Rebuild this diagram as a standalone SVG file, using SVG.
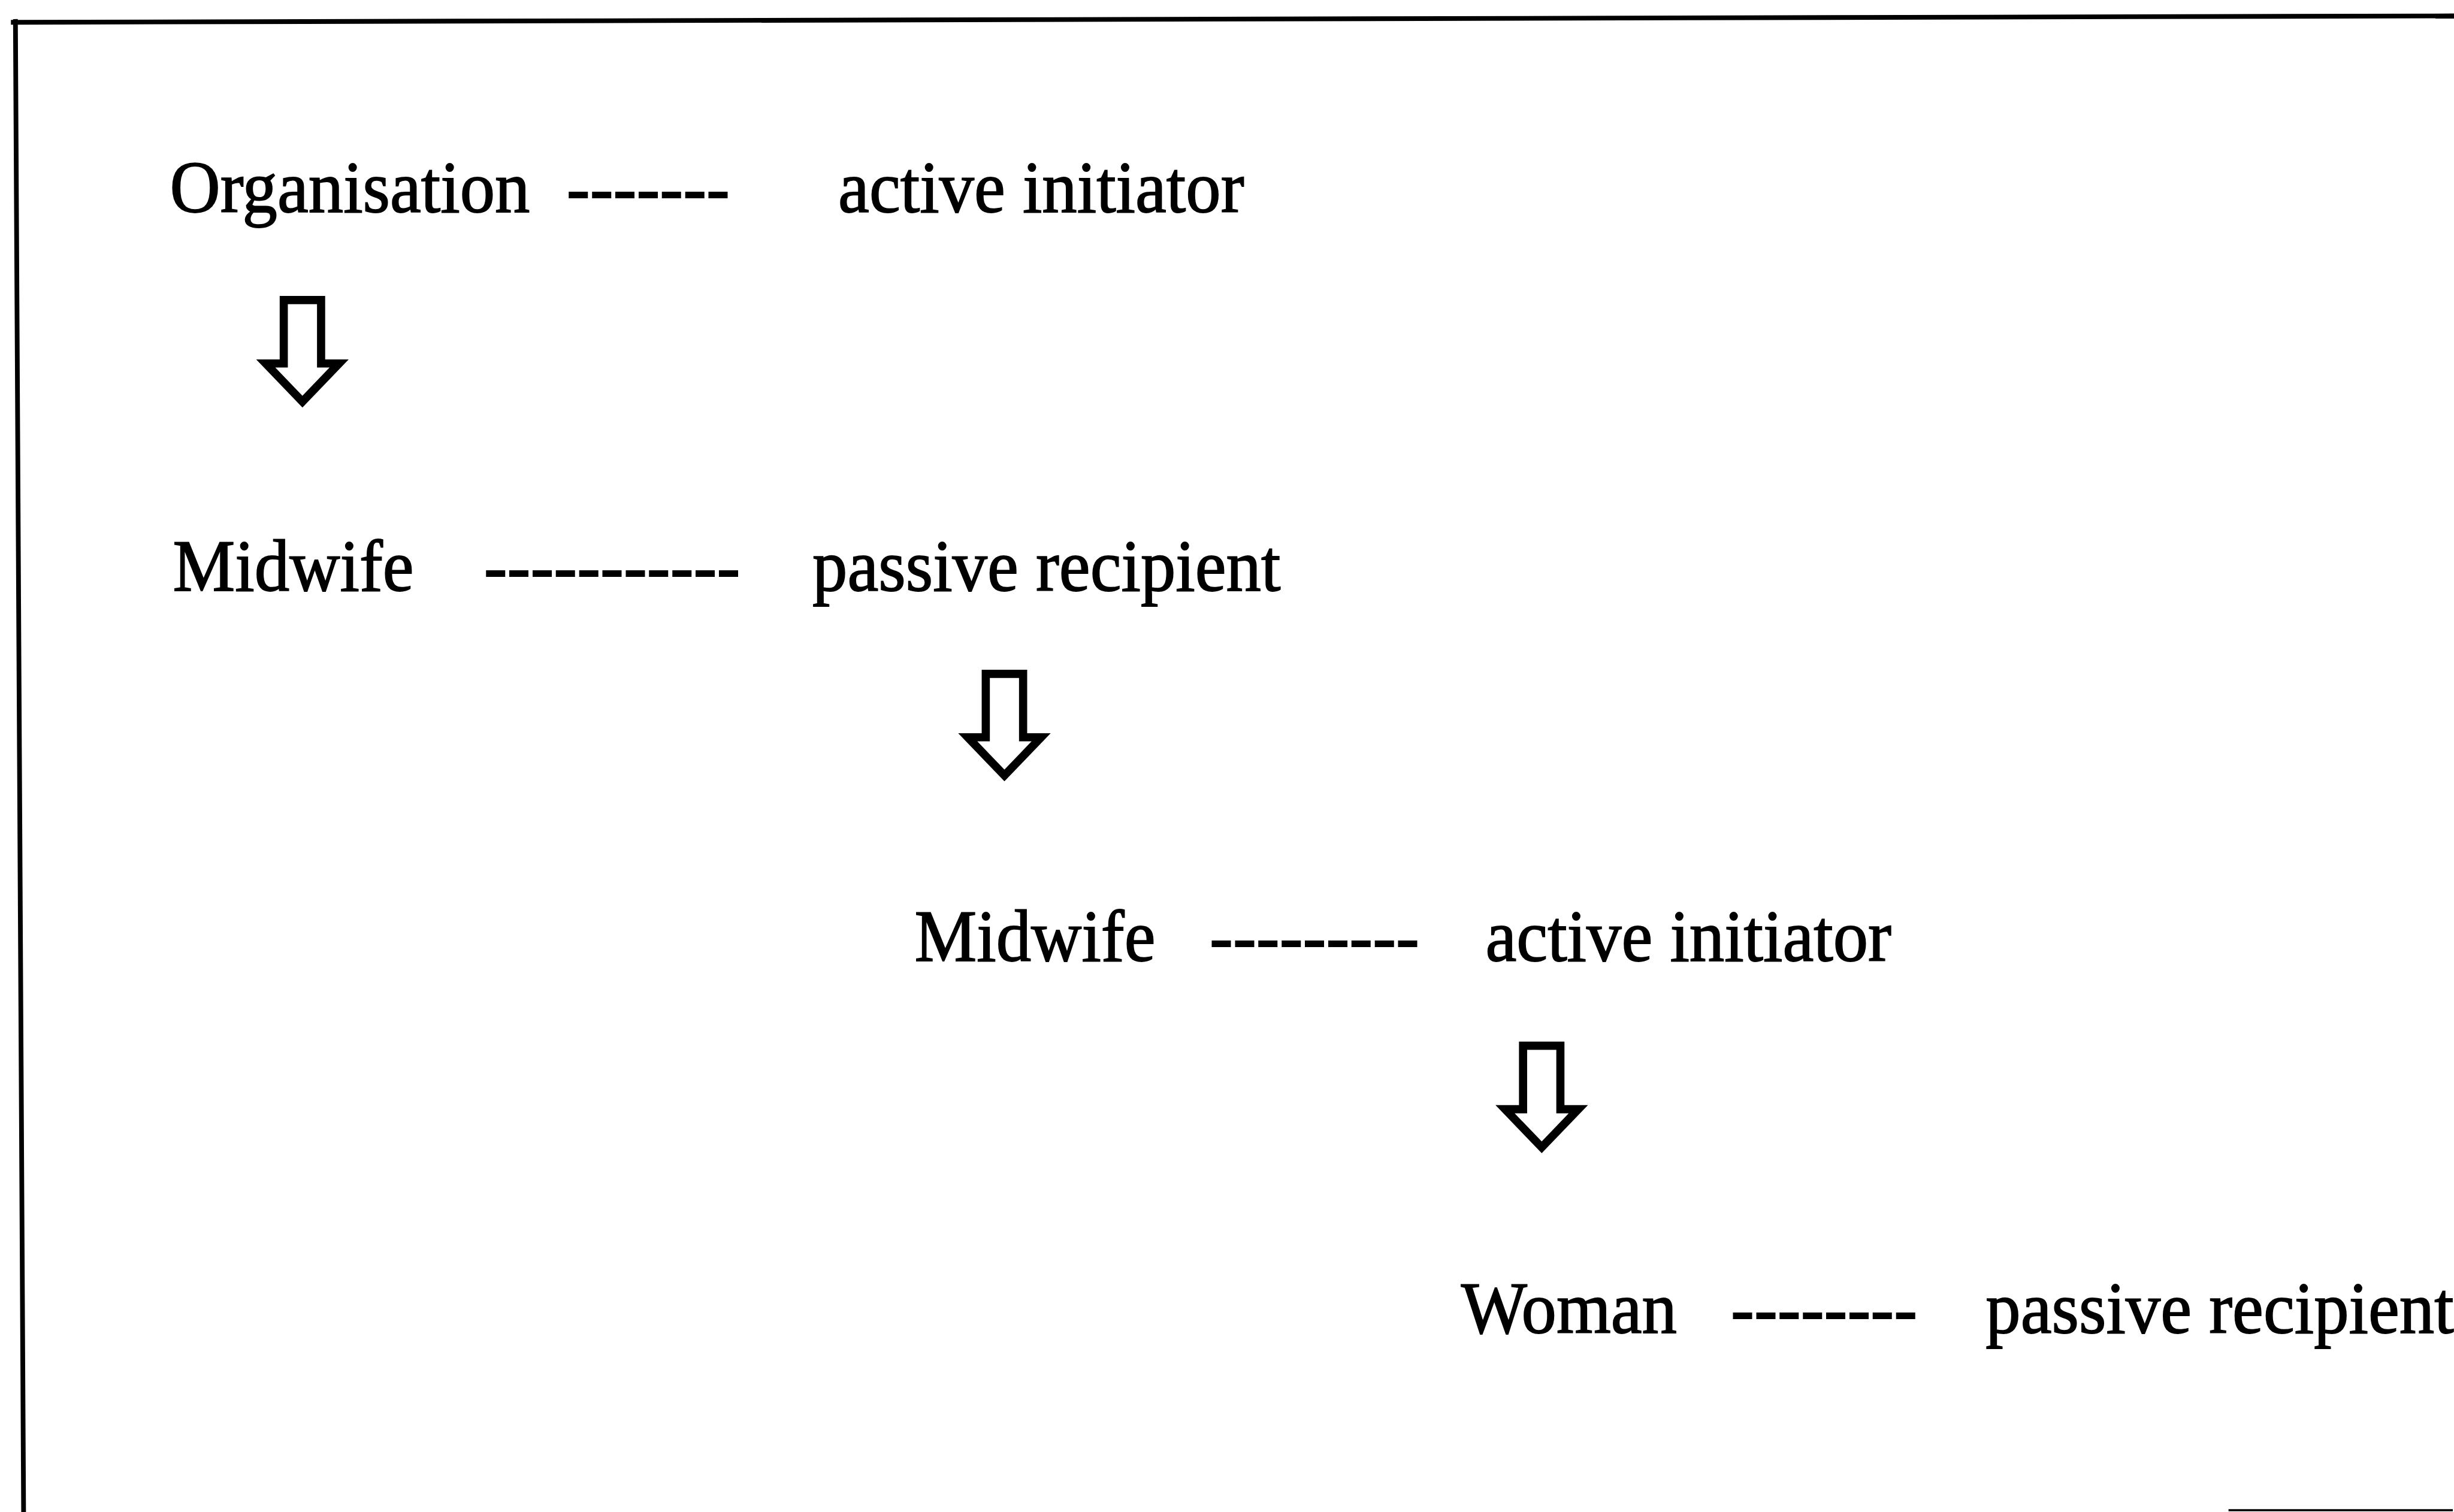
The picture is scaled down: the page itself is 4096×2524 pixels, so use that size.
<svg xmlns="http://www.w3.org/2000/svg" xmlns:xlink="http://www.w3.org/1999/xlink" width="4096" height="2524" viewBox="0 0 4096 2524">
<style>
.t{font-family:"Liberation Serif","Times New Roman",serif;font-size:172px;fill:#000;stroke:#000;stroke-width:2.5}
.frame{stroke:#000;stroke-width:11;fill:none;stroke-linecap:square}
.arr{fill:#fff;stroke:#000;stroke-width:19;stroke-linejoin:miter;stroke-miterlimit:4}
</style>
<defs>
<path id="downArrow" class="arr" d="M-43.5,0 H43.5 V148 H85.5 L0,237 L-85.5,148 H-43.5 Z"/>
</defs>
<rect width="4096" height="2524" fill="#fff"/>
<g transform="scale(0.716)">
<g id="frame">
<line class="frame" x1="31" y1="52" x2="5718" y2="37"/>
<line class="frame" x1="36" y1="50" x2="55" y2="3524"/>
<line x1="5195" y1="3521" x2="5718" y2="3521" stroke="#000" stroke-width="5"/>
</g>
<g id="node-organisation">
<text class="t" transform="translate(396,495) scale(0.948,1)">Organisation</text>
<text class="t" transform="translate(1321,495) scale(0.948,1)">-------</text>
<text class="t" transform="translate(1954,495) scale(0.948,1)">active initiator</text>
</g>
<g id="node-midwife-passive">
<text class="t" transform="translate(403,1377) scale(0.948,1)">Midwife</text>
<text class="t" transform="translate(1128,1377) scale(0.948,1)">-----------</text>
<text class="t" transform="translate(1894,1377) scale(0.948,1)">passive recipient</text>
</g>
<g id="node-midwife-active">
<text class="t" transform="translate(2132,2240) scale(0.948,1)">Midwife</text>
<text class="t" transform="translate(2820,2240) scale(0.948,1)">---------</text>
<text class="t" transform="translate(3463,2240) scale(0.948,1)">active initiator</text>
</g>
<g id="node-woman">
<text class="t" transform="translate(3406,3108) scale(0.948,1)">Woman</text>
<text class="t" transform="translate(4035,3108) scale(0.948,1)">--------</text>
<text class="t" transform="translate(4629,3108) scale(0.948,1)">passive recipient</text>
</g>
<g id="connectors">
<use xlink:href="#downArrow" href="#downArrow" x="705" y="699.5"/>
<use xlink:href="#downArrow" href="#downArrow" x="2341.5" y="1571"/>
<use xlink:href="#downArrow" href="#downArrow" x="3594" y="2438"/>
</g>
</g>
</svg>
